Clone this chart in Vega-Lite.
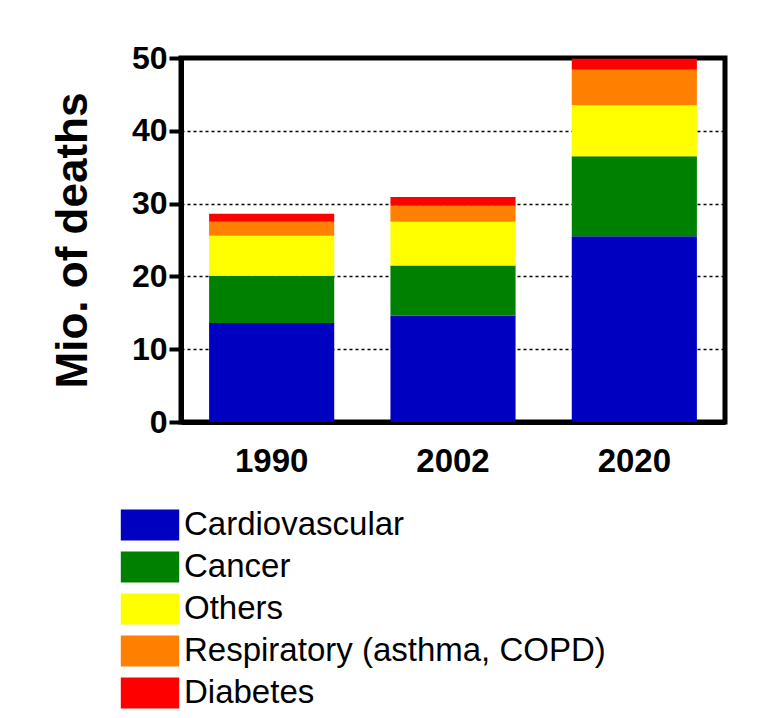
{
  "$schema": "https://vega.github.io/schema/vega-lite/v6.json",
  "autosize": "none",
  "width": 544,
  "height": 364,
  "padding": {"left": 181, "top": 58, "right": 49, "bottom": 296},
  "background": "white",
  "config": {
    "font": "Liberation Sans",
    "view": {"stroke": "black", "strokeWidth": 5, "fill": "white"}
  },
  "data": {
    "values": [
      {"year": "1990", "cause": "Cardiovascular", "rank": 1, "deaths": 13.6},
      {"year": "1990", "cause": "Cancer", "rank": 2, "deaths": 6.5},
      {"year": "1990", "cause": "Others", "rank": 3, "deaths": 5.5},
      {"year": "1990", "cause": "Respiratory (asthma, COPD)", "rank": 4, "deaths": 1.9},
      {"year": "1990", "cause": "Diabetes", "rank": 5, "deaths": 1.1},
      {"year": "2002", "cause": "Cardiovascular", "rank": 1, "deaths": 14.6},
      {"year": "2002", "cause": "Cancer", "rank": 2, "deaths": 6.9},
      {"year": "2002", "cause": "Others", "rank": 3, "deaths": 6.0},
      {"year": "2002", "cause": "Respiratory (asthma, COPD)", "rank": 4, "deaths": 2.2},
      {"year": "2002", "cause": "Diabetes", "rank": 5, "deaths": 1.2},
      {"year": "2020", "cause": "Cardiovascular", "rank": 1, "deaths": 25.5},
      {"year": "2020", "cause": "Cancer", "rank": 2, "deaths": 11.0},
      {"year": "2020", "cause": "Others", "rank": 3, "deaths": 7.0},
      {"year": "2020", "cause": "Respiratory (asthma, COPD)", "rank": 4, "deaths": 4.9},
      {"year": "2020", "cause": "Diabetes", "rank": 5, "deaths": 1.5}
    ]
  },
  "mark": {"type": "bar"},
  "encoding": {
    "x": {
      "field": "year",
      "type": "nominal",
      "scale": {"paddingInner": 0.31, "paddingOuter": 0.155},
      "axis": {
        "title": null,
        "labelAngle": 0,
        "ticks": false,
        "labelPadding": 23,
        "labelFontSize": 33,
        "labelFontWeight": "bold",
        "labelColor": "black",
        "domainColor": "black",
        "domainWidth": 5
      }
    },
    "y": {
      "field": "deaths",
      "type": "quantitative",
      "stack": "zero",
      "scale": {"domain": [0, 50], "nice": false},
      "axis": {
        "title": "Mio. of deaths",
        "values": [0, 10, 20, 30, 40, 50],
        "titleFontSize": 44,
        "titleFontWeight": "bold",
        "titleColor": "black",
        "titleAngle": -90,
        "titleAlign": "center",
        "titleBaseline": "bottom",
        "titleX": -86,
        "titleY": 182,
        "labelFontSize": 32,
        "labelFontWeight": "bold",
        "labelColor": "black",
        "labelPadding": 2,
        "tickSize": 12,
        "tickWidth": 4,
        "tickColor": "black",
        "domainColor": "black",
        "domainWidth": 5,
        "grid": true,
        "gridColor": "black",
        "gridWidth": 1.5,
        "gridDash": [3, 3]
      }
    },
    "color": {
      "field": "cause",
      "type": "nominal",
      "scale": {
        "domain": ["Cardiovascular", "Cancer", "Others", "Respiratory (asthma, COPD)", "Diabetes"],
        "range": ["#0000c0", "#008000", "#ffff00", "#ff8000", "#ff0000"]
      },
      "legend": {
        "title": null,
        "orient": "none",
        "legendX": -51,
        "legendY": 447,
        "direction": "vertical",
        "symbolType": "M-1.46,-0.775H1.46V0.775H-1.46Z",
        "symbolSize": 1600,
        "symbolStrokeWidth": 0,
        "symbolOpacity": 1,
        "labelFontSize": 33,
        "labelColor": "black",
        "labelOffset": 14,
        "labelLimit": 600,
        "rowPadding": 5,
        "padding": 0
      }
    },
    "order": {"field": "rank", "type": "quantitative"}
  }
}
